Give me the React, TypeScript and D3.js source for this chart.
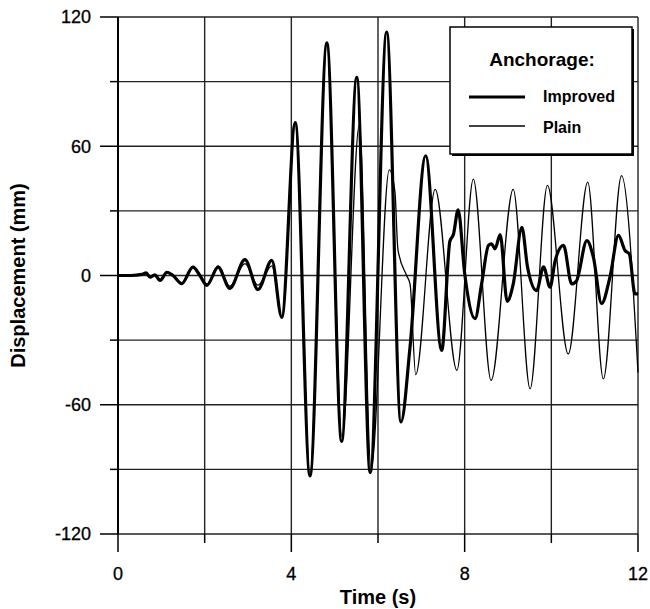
import React from "react";
import * as d3 from "d3";

// Displacement history (time in s, displacement in mm)
const improvedTime = [
  0, 0.3, 0.55, 0.65, 0.74, 0.85, 0.97, 1.13, 1.27, 1.47, 1.73, 1.89, 2.05, 2.31, 2.58,
  2.93, 3.23, 3.55, 3.78, 4.09, 4.43, 4.82, 5.16, 5.51, 5.82, 6.2, 6.53, 6.74, 7.1, 7.47,
  7.66, 7.74, 7.85, 8.0, 8.24, 8.39, 8.55, 8.62, 8.7, 8.82, 8.98, 9.12, 9.32, 9.45, 9.66,
  9.82, 9.97, 10.09, 10.28, 10.47, 10.58, 10.82, 10.97, 11.16, 11.35, 11.55, 11.7, 11.8,
  11.93, 12,
];
const improvedDisp = [
  0, 0, 0.5, 1.2, -0.8, 0.3, -2.3, 1.5, 0, -3.8, 3.9, 0, -4.6, 3.9, -6,
  7.4, -6.5, 7, -19.5, 71, -93, 108, -77, 92, -91.5, 113, -68, -33, 55.6, -34.8,
  16, 19, 30.5, 1, -20, -4, 14, 14.7, 12.4, 19, -12, -4, 22.4, 4, -7,
  4, -5.4, 7, 14, -3.9, -2.5, 16.2, 8.5, -13, -1, 18.6, 11.6, 10,
  -8.5, -8.5,
];

const plainTime = [
  0, 0.3, 0.55, 0.65, 0.74, 0.85, 0.97, 1.13, 1.27, 1.47, 1.73, 1.89, 2.05, 2.31, 2.58,
  2.93, 3.23, 3.55, 3.78, 4.09, 4.43, 4.82, 5.17, 5.57, 5.84, 6.26, 6.39, 6.46, 6.66, 6.74,
  6.87, 7.32, 7.82, 8.2, 8.61, 9.12, 9.51, 9.91, 10.39, 10.84, 11.2, 11.62, 12,
];
const plainDisp = [
  0, 0, 0.5, 1, -1, 0, -2, 1.8, 0.3, -3.5, 4.2, 0.5, -4, 4.5, -5,
  5.5, -4.5, 4.5, -19, 70, -92, 107, -75, 70, -90, 49, 39, 12, 0, -4,
  -46, 40, -44, 44.7, -48.7, 40, -52.6, 41.8, -36.4, 43.3, -48, 46.4, -45,
];

const xTicks = [0, 4, 8, 12];
const xMinor = [2, 6, 10];
const yTicks = [-120, -60, 0, 60, 120];
const yMinor = [-90, -30, 30, 90];

const font = "'Liberation Sans', Arial, Helvetica, sans-serif";

export default function App() {
  const W = 650;
  const H = 609;
  const margin = { top: 17, right: 12, bottom: 75, left: 118 };

  const x = d3.scaleLinear().domain([0, 12]).range([margin.left, W - margin.right]);
  const y = d3.scaleLinear().domain([-120, 120]).range([H - margin.bottom, margin.top]);

  const line = d3
    .line<[number, number]>()
    .x((d) => x(d[0]))
    .y((d) => y(d[1]))
    .curve(d3.curveMonotoneX);

  const improved = line(improvedTime.map((t, i) => [t, improvedDisp[i]]) as [number, number][]);
  const plain = line(plainTime.map((t, i) => [t, plainDisp[i]]) as [number, number][]);

  const x0 = x(0), x1 = x(12);
  const yb = y(-120), yt = y(120);
  const grid = "#222";

  // legend box
  const lg = { x: 450, y: 27, w: 182, h: 127 };

  return (
    <svg width={W} height={H} style={{ position: "absolute", left: 0, top: 0, background: "#fff" }}>
      {/* horizontal grid */}
      {[...yTicks, ...yMinor].map((v) => (
        <line key={"h" + v} x1={x0} x2={x1} y1={y(v)} y2={y(v)} stroke={grid} strokeWidth={1.4} />
      ))}
      {/* vertical grid */}
      {[...xTicks, ...xMinor].map((v) => (
        <line key={"v" + v} x1={x(v)} x2={x(v)} y1={yt} y2={yb} stroke={grid} strokeWidth={1.4} />
      ))}
      {/* left axis */}
      <line x1={x0} x2={x0} y1={yt} y2={yb} stroke="#000" strokeWidth={2} />

      {/* ticks */}
      {yTicks.map((v) => (
        <line key={"yt" + v} x1={x0 - 18} x2={x0} y1={y(v)} y2={y(v)} stroke="#000" strokeWidth={1.5} />
      ))}
      {yMinor.map((v) => (
        <line key={"ym" + v} x1={x0 - 8} x2={x0} y1={y(v)} y2={y(v)} stroke="#000" strokeWidth={1.5} />
      ))}
      {xTicks.map((v) => (
        <line key={"xt" + v} x1={x(v)} x2={x(v)} y1={yb} y2={yb + 18} stroke="#000" strokeWidth={1.5} />
      ))}
      {xMinor.map((v) => (
        <line key={"xm" + v} x1={x(v)} x2={x(v)} y1={yb} y2={yb + 9} stroke="#000" strokeWidth={1.5} />
      ))}

      {/* tick labels */}
      {yTicks.map((v) => (
        <text key={"yl" + v} x={x0 - 27} y={y(v)} dy="0.35em" textAnchor="end"
          fontFamily={font} fontSize={18} fill="#000" stroke="#000" strokeWidth={0.3}>{v}</text>
      ))}
      {xTicks.map((v) => (
        <text key={"xl" + v} x={x(v)} y={yb + 46} textAnchor="middle"
          fontFamily={font} fontSize={18} fill="#000" stroke="#000" strokeWidth={0.3}>{v}</text>
      ))}

      {/* axis titles */}
      <text x={x(6)} y={604} textAnchor="middle" fontFamily={font} fontSize={20} fontWeight="bold">
        Time (s)
      </text>
      <text transform={`translate(25,${y(0)}) rotate(-90)`} textAnchor="middle"
        fontFamily={font} fontSize={20} fontWeight="bold">
        Displacement (mm)
      </text>

      {/* series */}
      <path d={plain ?? ""} fill="none" stroke="#000" strokeWidth={1.3} strokeLinejoin="round" />
      <path d={improved ?? ""} fill="none" stroke="#000" strokeWidth={3.2} strokeLinejoin="round" />

      {/* legend */}
      <rect x={lg.x + 2} y={lg.y + 2} width={lg.w} height={lg.h} fill="#000" />
      <rect x={lg.x} y={lg.y} width={lg.w} height={lg.h} fill="#fff" stroke="#000" strokeWidth={1.5} />
      <text x={lg.x + 92} y={lg.y + 39} textAnchor="middle" fontFamily={font} fontSize={19} fontWeight="bold">
        Anchorage:
      </text>
      <line x1={lg.x + 19} x2={lg.x + 75} y1={lg.y + 70} y2={lg.y + 70} stroke="#000" strokeWidth={3.2} />
      <text x={lg.x + 93} y={lg.y + 75} fontFamily={font} fontSize={16} fontWeight="bold">Improved</text>
      <line x1={lg.x + 19} x2={lg.x + 75} y1={lg.y + 99} y2={lg.y + 99} stroke="#000" strokeWidth={1.3} />
      <text x={lg.x + 93} y={lg.y + 106} fontFamily={font} fontSize={16} fontWeight="bold">Plain</text>
    </svg>
  );
}
